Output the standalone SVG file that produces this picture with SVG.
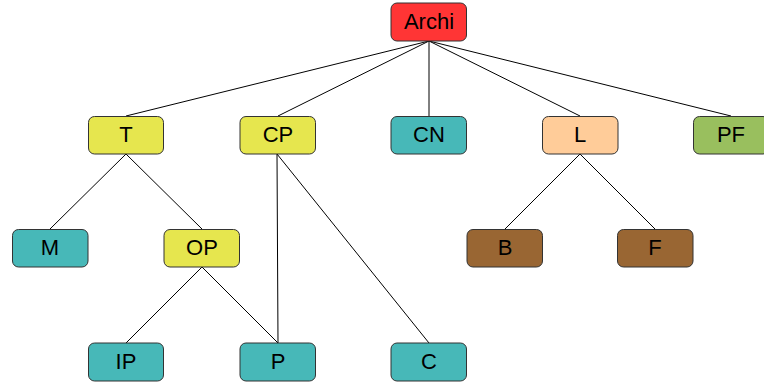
<svg xmlns="http://www.w3.org/2000/svg" width="764" height="387" viewBox="0 0 764 387">
  <style>
    .box { stroke: #333333; stroke-width: 1; }
    .lbl { font-family: "Liberation Sans", Arial, sans-serif; font-size: 22px; fill: #000000; text-anchor: middle; }
    .edge { stroke: #000000; stroke-width: 1; fill: none; }
    .red { fill: #FF3535; }
    .yellow { fill: #E6E64E; }
    .teal { fill: #47B8B8; }
    .peach { fill: #FFCC99; }
    .green { fill: #99BF5E; }
    .brown { fill: #996633; }
  </style>
  <rect width="764" height="387" fill="#ffffff"/>

  <g id="connectors">
    <line class="edge" x1="429" y1="41" x2="126" y2="116"/>
    <line class="edge" x1="429" y1="41" x2="278" y2="116"/>
    <line class="edge" x1="429" y1="41" x2="429" y2="116"/>
    <line class="edge" x1="429" y1="41" x2="580" y2="116"/>
    <line class="edge" x1="429" y1="41" x2="731" y2="116"/>
    <line class="edge" x1="126" y1="154" x2="50" y2="229"/>
    <line class="edge" x1="126" y1="154" x2="202" y2="229"/>
    <line class="edge" x1="277" y1="154" x2="278" y2="343"/>
    <line class="edge" x1="277" y1="154" x2="429" y2="343"/>
    <line class="edge" x1="202" y1="267" x2="126" y2="343"/>
    <line class="edge" x1="202" y1="267" x2="278" y2="343"/>
    <line class="edge" x1="580" y1="154" x2="505" y2="229"/>
    <line class="edge" x1="580" y1="154" x2="655" y2="229"/>
  </g>

  <g id="node-archi">
    <rect class="box red" x="391" y="3" width="75.5" height="38" rx="6"/>
    <text class="lbl" x="429" y="28.5">Archi</text>
  </g>
  <g id="node-t">
    <rect class="box yellow" x="88.5" y="116.5" width="75" height="37.5" rx="6"/>
    <text class="lbl" x="126" y="142">T</text>
  </g>
  <g id="node-cp">
    <rect class="box yellow" x="240" y="116.5" width="75.5" height="37.5" rx="6"/>
    <text class="lbl" x="278" y="142">CP</text>
  </g>
  <g id="node-cn">
    <rect class="box teal" x="391" y="116.5" width="75.5" height="37.5" rx="6"/>
    <text class="lbl" x="429" y="142">CN</text>
  </g>
  <g id="node-l">
    <rect class="box peach" x="542.5" y="116.5" width="75.5" height="37.5" rx="6"/>
    <text class="lbl" x="580" y="142">L</text>
  </g>
  <g id="node-pf">
    <rect class="box green" x="693.5" y="116.5" width="75.5" height="37.5" rx="6"/>
    <text class="lbl" x="731" y="142">PF</text>
  </g>
  <g id="node-m">
    <rect class="box teal" x="12.5" y="229.5" width="75.5" height="37.5" rx="6"/>
    <text class="lbl" x="50" y="255">M</text>
  </g>
  <g id="node-op">
    <rect class="box yellow" x="164" y="229.5" width="75.5" height="37.5" rx="6"/>
    <text class="lbl" x="202" y="255">OP</text>
  </g>
  <g id="node-b">
    <rect class="box brown" x="467" y="229.5" width="75.5" height="37.5" rx="6"/>
    <text class="lbl" x="505" y="255">B</text>
  </g>
  <g id="node-f">
    <rect class="box brown" x="617.5" y="229.5" width="75.5" height="37.5" rx="6"/>
    <text class="lbl" x="655" y="255">F</text>
  </g>
  <g id="node-ip">
    <rect class="box teal" x="88.5" y="343" width="75" height="38" rx="6"/>
    <text class="lbl" x="126" y="369">IP</text>
  </g>
  <g id="node-p">
    <rect class="box teal" x="240" y="343" width="75.5" height="38" rx="6"/>
    <text class="lbl" x="278" y="369">P</text>
  </g>
  <g id="node-c">
    <rect class="box teal" x="391" y="343" width="75.5" height="38" rx="6"/>
    <text class="lbl" x="429" y="369">C</text>
  </g>
</svg>
